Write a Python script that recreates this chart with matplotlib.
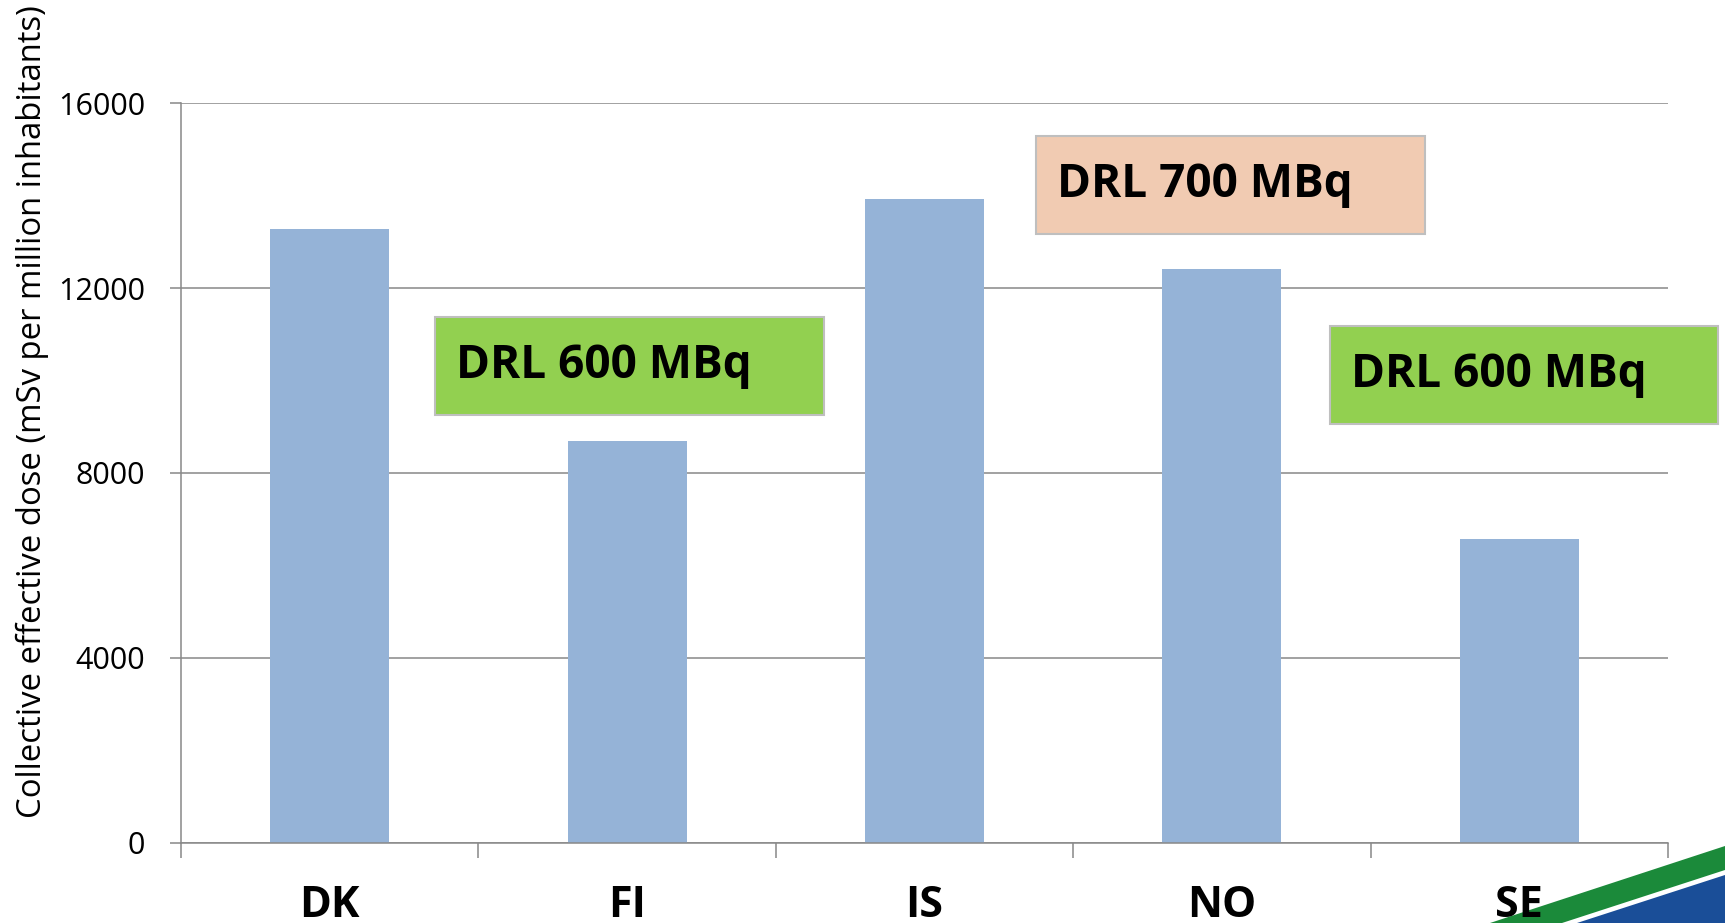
import matplotlib
matplotlib.use("Agg")
import matplotlib.pyplot as plt
from matplotlib.patches import Rectangle, Polygon

plt.rcParams['font.family'] = ['Open Sans', 'DejaVu Sans']

countries = ["DK", "FI", "IS", "NO", "SE"]
dose = [13270, 8690, 13930, 12410, 6580]
y_ticks = [0, 4000, 8000, 12000, 16000]
drl_labels = ["DRL 600 MBq", "DRL 700 MBq", "DRL 600 MBq"]

W, H = 1725, 923
fig = plt.figure(figsize=(W / 100, H / 100), dpi=100)

# axes placed in pixel terms of the reference
l, r, t, b = 181, 1668, 103.3, 842.7
ax = fig.add_axes([l / W, 1 - b / H, (r - l) / W, (b - t) / H])
ax.set_facecolor("none")

grey = "#888888"
x = list(range(len(countries)))
ax.bar(x, dose, width=0.4, color="#95B3D7", zorder=2)

ax.set_xlim(-0.5, len(countries) - 0.5)
ax.set_ylim(0, 16000)
ax.set_yticks(y_ticks)
ax.set_yticklabels([str(v) for v in y_ticks], fontsize=22)
ax.yaxis.grid(True, color=grey, linewidth=1.1, zorder=0)
ax.set_axisbelow(True)

ax.set_xticks(x)
ax.set_xticklabels(countries, fontsize=31, fontweight="bold")
ax.set_xticks([i - 0.5 for i in range(len(countries) + 1)], minor=True)
ax.tick_params(axis="x", which="major", length=0, pad=30)
ax.tick_params(axis="x", which="minor", length=11, width=1.1, color=grey)
ax.tick_params(axis="y", length=8, width=1.1, color=grey, pad=18)

for s in ["top", "right"]:
    ax.spines[s].set_visible(False)
for s in ["left", "bottom"]:
    ax.spines[s].set_color(grey)
    ax.spines[s].set_linewidth(1.1)

fig.text(32 / W, 1 - 412 / H, "Collective effective dose (mSv per million inhabitants)",
         rotation=90, ha="center", va="center", fontsize=23.7)

# DRL boxes (pixel boxes: x0, y0, x1, y1)
boxes = [(435, 317, 824, 415), (1036, 136, 1425, 234), (1330, 326, 1718, 424)]
box_colors = ["#92D050", "#F1CBB2", "#92D050"]
for (x0, y0, x1, y1), lab, c in zip(boxes, drl_labels, box_colors):
    fig.patches.append(Rectangle((x0 / W, 1 - y1 / H), (x1 - x0) / W, (y1 - y0) / H,
                                 transform=fig.transFigure, facecolor=c,
                                 edgecolor="#BFBFBF", linewidth=1.5, zorder=5))
    fig.text((x0 + 21) / W, 1 - ((y0 + y1) / 2) / H, lab, ha="left", va="center",
             fontsize=33, fontweight="bold", zorder=6)

# logo stripes in bottom-right corner
green = [(1490, 923), (1725, 846), (1725, 870), (1562, 923)]
blue = [(1577, 923), (1725, 875), (1725, 923)]
for pts, c in [(green, "#1B8A3A"), (blue, "#1A4E98")]:
    fig.patches.append(Polygon([(px / W, 1 - py / H) for px, py in pts], closed=True,
                               transform=fig.transFigure, facecolor=c,
                               edgecolor="none", zorder=-1))

fig.savefig("out.png", dpi=100)
